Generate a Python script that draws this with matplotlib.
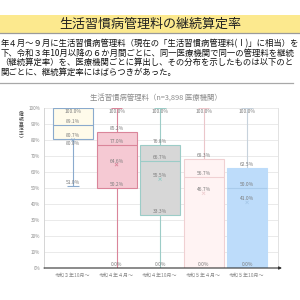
import matplotlib
matplotlib.use('Agg')
import matplotlib.pyplot as plt
from matplotlib.patches import Rectangle
from matplotlib.lines import Line2D

plt.rcParams['font.family'] = ['Noto Sans CJK JP', 'DejaVu Sans']

# ---------------- data ----------------
title = "生活習慣病管理料の継続算定率"
body_lines = [
    "年４月～９月に生活習慣病管理料（現在の「生活習慣病管理料(Ⅰ)」に相当）を",
    "下、令和３年10月以降の６か月間ごとに、同一医療機関で同一の管理料を継続",
    "（継続算定率）を、医療機関ごとに算出し、その分布を示したものは以下のと",
    "関ごとに、継続算定率にはばらつきがあった。",
]
chart_title = "生活習慣病管理料（n=3,898 医療機関）"
ylabel_chars = ["︵", "継", "続", "算", "定", "率", "︶"]
categories = ["令和３年10月～", "令和４年４月～", "令和４年10月～", "令和５年４月～", "令和５年10月～"]
maxs = [100.0, 100.0, 100.0, 100.0, 100.0]
q3s = [100.0, 85.2, 76.8, 68.3, 62.5]
medians = [89.1, 77.0, 66.7, 56.7, 50.0]
means = [80.0, 64.6, 55.5, 46.7, 41.0]
q1s = [80.7, 50.2, 33.3, 0.0, 0.0]
mins = [51.0, 0.0, 0.0, 0.0, 0.0]
yticks = list(range(0, 101, 10))

# ---------------- styles ----------------
fills = ["#FFFBEA", "#F5C9D3", "#D7D7D7", "#FFF3F3", "#BDDCFA"]
edges = ["#8AAACD", "#DA859A", "#9CCCC7", "#F0D0D2", "#BDDCFA"]
whisk = ["#8AAACD", "#DA859A", "#9CCCC7", "#EBC6CA", "#C7D2DC"]
medc = ["#8AAACD", "#DA859A", "#9CCCC7", "#F0D0D2", "#A9CBEB"]

W = H = 300.0
def fx(px):
    return px / W
def fy(py):
    return 1 - py / H

fig = plt.figure(figsize=(3, 3), dpi=100)
fig.patch.set_facecolor('white')

# title band
fig.patches.append(Rectangle((0, fy(32.5)), 1, 17.5 / H, transform=fig.transFigure,
                             facecolor="#FCE98E", edgecolor='none', zorder=0))
fig.text(0.5, fy(24), title, ha='center', va='center', fontsize=9.4, color='#222')
fig.lines.append(Line2D([0, 1], [fy(33.3), fy(33.3)], transform=fig.transFigure,
                        color='#9A9A9A', lw=0.9))

# body text
for i, line in enumerate(body_lines):
    fig.text(fx(0.5), fy(43.3 + 9.7 * i), line, ha='left', va='center', fontsize=6.0, color='#111')

# chart frame line
fig.lines.append(Line2D([0, fx(293)], [fy(83), fy(83)], transform=fig.transFigure,
                        color='#A8A8A8', lw=0.9))

fig.text(fx(156), fy(98), chart_title, ha='center', va='center', fontsize=5.3, color='#8A8A8A')
fig.text(fx(21), fy(124), "\n".join(ylabel_chars), ha='center', va='center', fontsize=3.4,
         linespacing=0.95, color='#444')

# axes
ax = fig.add_axes([fx(44), 32 / H, 234 / W, 160 / H])
ax.set_xlim(-0.667, 4.71)
ax.set_ylim(0, 100)
ax.set_yticks(yticks)
ax.set_yticklabels([f"{v}%" for v in yticks])
x = list(range(len(categories)))
ax.set_xticks(x)
ax.set_xticklabels(categories)
ax.tick_params(axis='y', length=0, pad=2.8, labelsize=3.3, labelcolor='#8A8A8A')
ax.tick_params(axis='x', length=0, pad=3.2, labelsize=3.6, labelcolor='#8A8A8A')
for v in yticks[1:]:
    ax.axhline(v, color='#E6E6E6', lw=0.6, zorder=0)
for s in ['top', 'bottom']:
    ax.spines[s].set_visible(False)
ax.spines['left'].set_color('#D5D5D5')
ax.spines['right'].set_color('#E2E2E2')
ax.spines['left'].set_linewidth(0.7)
ax.spines['right'].set_linewidth(0.7)

bw = 0.92
cw = 0.13
# whiskers
ax.vlines(x, mins, q1s, colors=whisk, lw=0.8, zorder=1)
ax.vlines(x, q3s, maxs, colors=whisk, lw=0.8, zorder=1)
ax.hlines(mins, [i - cw for i in x], [i + cw for i in x], colors=whisk, lw=0.8, zorder=1)
ax.hlines(maxs, [i - cw for i in x], [i + cw for i in x], colors=whisk, lw=0.8, zorder=1)
# boxes
ax.bar(x, [a - b for a, b in zip(q3s, q1s)], bottom=q1s, width=bw, color=fills,
       edgecolor=edges, linewidth=0.8, zorder=2)
ax.hlines(medians, [i - bw / 2 for i in x], [i + bw / 2 for i in x], colors=medc, lw=0.8, zorder=3)
ax.scatter(x, means, marker='x', s=5, c=medc, linewidths=0.6, zorder=4)

# data labels
for i in x:
    vals = []
    for v in [maxs[i], q3s[i], medians[i], means[i], q1s[i], mins[i]]:
        if v not in vals:
            vals.append(v)
    for v in vals:
        if v >= 100:
            off = -3.2
        elif v == means[i] and abs(v - q1s[i]) < 2:
            off = -3.2
        else:
            off = 3.6
        ax.annotate(f"{v:.1f}%", (i, v), xytext=(0, off), textcoords='offset pixels',
                    ha='center', va='center', fontsize=3.5, color='#7A7A7A', zorder=5)

# x-axis arrow
ax.annotate('', xy=(fx(282), 32 / H), xytext=(fx(44), 32 / H), xycoords='figure fraction',
            textcoords='figure fraction',
            arrowprops=dict(arrowstyle='-|>', color='#333333', lw=0.8, mutation_scale=4,
                            shrinkA=0, shrinkB=0))

fig.savefig('out.png', dpi=100)
